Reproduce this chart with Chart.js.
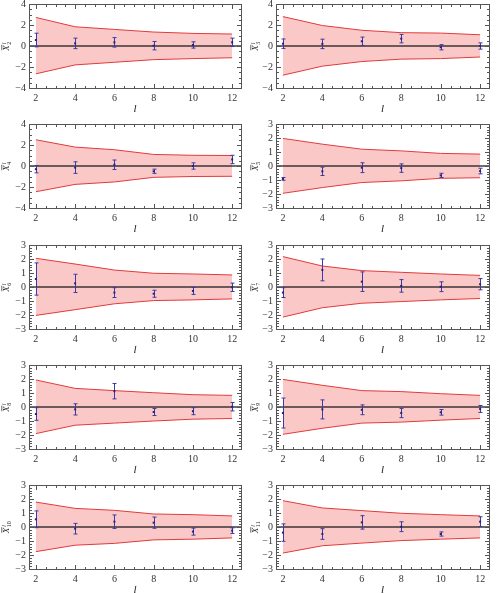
<!DOCTYPE html>
<html>
<head>
<meta charset="utf-8">
<script src="https://cdn.jsdelivr.net/npm/chart.js@4"></script>
<style>
  html, body { margin: 0; padding: 0; background: #fff; overflow: hidden; }
  .panel { position: absolute; line-height: 0; }
  .panel canvas { display: block; }
</style>
</head>
<body>
<script>
// multipole index l on the x axis
const lValues = [2, 4, 6, 8, 10, 12];
const xTicks = [2, 4, 6, 8, 10, 12];
// one entry per panel: X^l_2 ... X^l_11
const panelIds = [2, 3, 4, 5, 6, 7, 8, 9, 10, 11];
const yLimits = [4, 4, 4, 3, 3, 3, 3, 3, 3, 3];

const bandUpper = [
  [2.72, 1.83, 1.58, 1.33, 1.2, 1.14],
  [2.8, 1.95, 1.5, 1.27, 1.23, 1.07],
  [2.5, 1.8, 1.55, 1.1, 1.02, 1.0],
  [1.97, 1.56, 1.2, 1.08, 0.9, 0.85],
  [2.05, 1.64, 1.21, 0.98, 0.93, 0.86],
  [2.17, 1.5, 1.17, 1.05, 0.93, 0.83],
  [1.93, 1.33, 1.17, 1.02, 0.88, 0.83],
  [1.97, 1.55, 1.17, 1.1, 0.95, 0.83],
  [1.78, 1.33, 1.19, 0.93, 0.88, 0.79],
  [1.88, 1.36, 1.17, 0.98, 0.88, 0.79]
];
const bandLower = [
  [-2.65, -1.8, -1.55, -1.3, -1.2, -1.12],
  [-2.78, -1.92, -1.48, -1.25, -1.2, -1.05],
  [-2.45, -1.75, -1.52, -1.08, -1.0, -0.98],
  [-1.95, -1.54, -1.18, -1.06, -0.88, -0.84],
  [-2.03, -1.62, -1.2, -0.97, -0.92, -0.85],
  [-2.15, -1.48, -1.16, -1.04, -0.92, -0.82],
  [-1.9, -1.3, -1.15, -1.0, -0.87, -0.82],
  [-1.95, -1.52, -1.15, -1.08, -0.94, -0.82],
  [-1.76, -1.3, -1.17, -0.92, -0.87, -0.78],
  [-1.86, -1.34, -1.15, -0.97, -0.87, -0.78]
];
const pointMeans = [
  [0.57, 0.25, 0.35, 0.03, 0.1, 0.35],
  [0.22, 0.2, 0.45, 0.7, -0.12, 0.0],
  [-0.3, -0.15, 0.12, -0.5, 0.0, 0.62],
  [-0.92, -0.38, -0.12, -0.15, -0.67, -0.36],
  [0.57, 0.26, -0.4, -0.48, -0.28, -0.02],
  [-0.4, 1.22, 0.38, 0.08, 0.02, 0.2],
  [-0.5, -0.17, 1.13, -0.36, -0.3, 0.02],
  [-0.43, -0.17, -0.2, -0.43, -0.38, -0.14],
  [0.55, -0.12, 0.38, 0.31, -0.33, -0.26],
  [-0.4, -0.5, 0.33, 0.02, -0.5, 0.38]
];
const pointErrors = [
  [0.65, 0.5, 0.45, 0.4, 0.3, 0.4],
  [0.45, 0.45, 0.4, 0.4, 0.25, 0.3],
  [0.35, 0.55, 0.45, 0.2, 0.3, 0.4],
  [0.1, 0.3, 0.35, 0.3, 0.15, 0.2],
  [1.15, 0.65, 0.35, 0.25, 0.25, 0.3],
  [0.35, 0.78, 0.7, 0.45, 0.35, 0.4],
  [0.45, 0.4, 0.55, 0.25, 0.25, 0.3],
  [1.07, 0.68, 0.35, 0.33, 0.2, 0.25],
  [0.6, 0.38, 0.48, 0.4, 0.25, 0.2],
  [0.62, 0.38, 0.48, 0.35, 0.15, 0.35]
];

const rowTops = [0, 120, 241, 361, 481];
const SERIF = '"Liberation Serif", "DejaVu Serif", serif';
const navy = '#23236e';
const frameColor = '#555';

function drawYTitle(ctx, x, y, sub) {
  ctx.save();
  ctx.translate(x, y);
  ctx.rotate(-Math.PI / 2);
  ctx.fillStyle = '#222';
  ctx.textBaseline = 'alphabetic';
  ctx.textAlign = 'left';
  ctx.font = 'italic 9px ' + SERIF;
  const wX = ctx.measureText('X').width;
  ctx.font = '6px ' + SERIF;
  const wS = ctx.measureText(String(sub)).width;
  const total = wX + Math.max(wS, 3) + 1;
  const x0 = -total / 2;
  ctx.font = 'italic 9px ' + SERIF;
  ctx.fillText('X', x0, 0);
  ctx.fillRect(x0 + 0.5, -7.5, wX, 0.7);
  ctx.font = 'italic 6px ' + SERIF;
  ctx.fillText('l', x0 + wX + 1, -3);
  ctx.font = '6px ' + SERIF;
  ctx.fillText(String(sub), x0 + wX + 0.5, 1.5);
  ctx.restore();
}

const panelPlugin = {
  id: 'panel',
  beforeDatasetDraw(chart, args, opts) {
    if (args.index !== 0) return;
    // error bars under the points
    const ctx = chart.ctx, xs = chart.scales.x, ys = chart.scales.y;
    ctx.save();
    ctx.strokeStyle = '#3a3aa8';
    ctx.lineWidth = 1;
    lValues.forEach((l, i) => {
      const m = pointMeans[opts.p][i], e = pointErrors[opts.p][i];
      const px = Math.round(xs.getPixelForValue(l)) + 0.5;
      const y1 = ys.getPixelForValue(m + e), y2 = ys.getPixelForValue(m - e);
      ctx.beginPath();
      ctx.moveTo(px, y1); ctx.lineTo(px, y2);
      ctx.moveTo(px - 2, y1); ctx.lineTo(px + 2, y1);
      ctx.moveTo(px - 2, y2); ctx.lineTo(px + 2, y2);
      ctx.stroke();
    });
    ctx.restore();
  },
  afterDatasetDraw(chart, args) {
    if (args.index !== 1) return;
    // zero line
    const ctx = chart.ctx, a = chart.chartArea;
    const y0 = Math.round(chart.scales.y.getPixelForValue(0));
    ctx.save();
    ctx.fillStyle = '#111';
    ctx.fillRect(a.left, y0 - 0.6, a.right - a.left, 1.2);
    ctx.restore();
  },
  afterDatasetsDraw(chart, args, opts) {
    // frame with inward ticks on all four sides
    const ctx = chart.ctx, a = chart.chartArea;
    const xs = chart.scales.x, ys = chart.scales.y;
    const L = Math.floor(a.left), R = Math.floor(a.right);
    const T = Math.floor(a.top), B = Math.floor(a.bottom);
    ctx.save();
    ctx.fillStyle = frameColor;
    ctx.fillRect(L, T, R - L + 1, 1);
    ctx.fillRect(L, B, R - L + 1, 1);
    ctx.fillRect(L, T, 1, B - T + 1);
    ctx.fillRect(R, T, 1, B - T + 1);
    for (let v = 1; v <= 13.001; v += 0.5) {
      const px = Math.round(xs.getPixelForValue(v));
      if (px <= L || px >= R) continue;
      const len = Math.abs(v % 2) < 1e-6 ? 4 : 2;
      ctx.fillRect(px, B - len, 1, len);
      ctx.fillRect(px, T + 1, 1, len);
    }
    const lim = yLimits[opts.p];
    const major = lim === 4 ? 2 : 1, minor = lim === 4 ? 0.5 : 0.2;
    for (let v = -lim; v <= lim + 1e-6; v += minor) {
      const py = Math.round(ys.getPixelForValue(v));
      if (py <= T || py >= B) continue;
      const r = v / major;
      const len = Math.abs(r - Math.round(r)) < 1e-6 ? 4 : 2;
      ctx.fillRect(L + 1, py, len, 1);
      ctx.fillRect(R - len, py, len, 1);
    }
    ctx.restore();
  },
  afterDraw(chart, args, opts) {
    const ctx = chart.ctx, a = chart.chartArea;
    ctx.save();
    ctx.fillStyle = '#222';
    ctx.font = 'italic 11px ' + SERIF;
    ctx.textAlign = 'center';
    ctx.textBaseline = 'middle';
    ctx.fillText('l', (a.left + a.right) / 2, a.bottom + 21);
    ctx.restore();
    drawYTitle(ctx, 9, (a.top + a.bottom) / 2, panelIds[opts.p]);
  }
};

panelIds.forEach((id, p) => {
  const col = p % 2, row = Math.floor(p / 2);
  const div = document.createElement('div');
  div.className = 'panel';
  div.style.left = (col * 249) + 'px';
  div.style.top = rowTops[row] + 'px';
  const canvas = document.createElement('canvas');
  canvas.width = 249;
  canvas.height = 120;
  div.appendChild(canvas);
  document.body.appendChild(div);

  const lim = yLimits[p];
  const yw = col === 0 ? 29 : 27;
  const padRight = col === 0 ? 8 : 9;

  new Chart(canvas, {
    type: 'scatter',
    data: {
      datasets: [
        {
          data: lValues.map((l, i) => ({ x: l, y: pointMeans[p][i] })),
          pointStyle: 'rect',
          pointRadius: 1.4,
          backgroundColor: navy,
          borderColor: navy,
          borderWidth: 0
        },
        {
          data: lValues.map((l, i) => ({ x: l, y: bandUpper[p][i] })),
          showLine: true,
          pointRadius: 0,
          borderColor: '#e23a3a',
          borderWidth: 1,
          backgroundColor: 'rgba(250, 190, 190, 0.85)',
          fill: '+1'
        },
        {
          data: lValues.map((l, i) => ({ x: l, y: bandLower[p][i] })),
          showLine: true,
          pointRadius: 0,
          borderColor: '#e23a3a',
          borderWidth: 1,
          fill: false
        }
      ]
    },
    options: {
      responsive: false,
      animation: false,
      devicePixelRatio: 1,
      events: [],
      layout: { padding: { left: 0, right: padRight, top: 3, bottom: 0 } },
      plugins: {
        legend: { display: false },
        tooltip: { enabled: false },
        filler: { drawTime: 'beforeDatasetsDraw' },
        panel: { p: p }
      },
      scales: {
        x: {
          type: 'linear',
          min: 1.65,
          max: 12.45,
          grid: { display: false, drawTicks: false },
          border: { display: true, color: frameColor, width: 1 },
          afterBuildTicks: s => { s.ticks = xTicks.map(v => ({ value: v })); },
          afterFit: s => { s.height = 32; s.paddingLeft = 0; s.paddingRight = 0; },
          ticks: {
            padding: 4,
            maxRotation: 0,
            autoSkip: false,
            color: '#333',
            font: { family: SERIF, size: 10 }
          }
        },
        y: {
          min: -lim,
          max: lim,
          grid: { display: false, drawTicks: false },
          border: { display: true, color: frameColor, width: 1 },
          afterFit: s => { s.width = yw; s.paddingTop = 0; s.paddingBottom = 0; },
          ticks: {
            stepSize: lim === 4 ? 2 : 1,
            autoSkip: false,
            padding: 3,
            color: '#333',
            font: { family: SERIF, size: 10 },
            callback: v => String(v).replace('-', '\u2212')
          }
        }
      }
    },
    plugins: [panelPlugin]
  });
});
</script>
</body>
</html>
